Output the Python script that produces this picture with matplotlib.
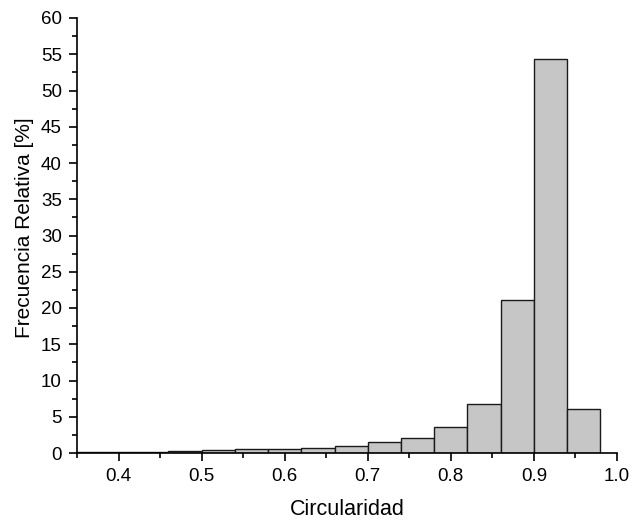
import numpy as np
import matplotlib.pyplot as plt
from matplotlib.ticker import MultipleLocator

# bin left edges (width 0.04) and relative frequency in %
bin_edges = [0.34, 0.38, 0.42, 0.46, 0.50, 0.54, 0.58, 0.62, 0.66, 0.70,
             0.74, 0.78, 0.82, 0.86, 0.90, 0.94, 0.98]
freq = [0.1, 0.15, 0.2, 0.25, 0.35, 0.5, 0.6, 0.75, 1.0, 1.5,
        2.05, 3.65, 6.75, 21.1, 54.35, 6.05]

plt.rcParams['font.family'] = ['Liberation Sans', 'DejaVu Sans']

fig = plt.figure(figsize=(6.33, 5.25), dpi=100)
ax = fig.add_axes([77 / 633, 1 - 453 / 525, 540 / 633, 435 / 525])

left = np.array(bin_edges[:-1])
widths = np.diff(bin_edges)
ax.bar(left, freq, width=widths, align='edge', color='#c6c6c6',
       edgecolor='#1a1a1a', linewidth=1.0)

ax.set_xlim(0.35, 1.0)
ax.set_ylim(0, 60)
ax.xaxis.set_major_locator(MultipleLocator(0.1))
ax.xaxis.set_minor_locator(MultipleLocator(0.05))
ax.yaxis.set_major_locator(MultipleLocator(5))
ax.yaxis.set_minor_locator(MultipleLocator(2.5))
ax.set_xticks([0.4, 0.5, 0.6, 0.7, 0.8, 0.9, 1.0])
ax.set_xticklabels(['0.4', '0.5', '0.6', '0.7', '0.8', '0.9', '1.0'])

ax.spines['top'].set_visible(False)
ax.spines['right'].set_visible(False)
ax.spines['left'].set_linewidth(1.2)
ax.spines['bottom'].set_linewidth(1.2)
ax.tick_params(which='major', direction='out', length=6, width=1.2,
               labelsize=13.5, pad=5)
ax.tick_params(which='minor', direction='out', length=3.5, width=1.2)

ax.set_xlabel('Circularidad', fontsize=15.5, labelpad=10)
ax.set_ylabel('Frecuencia Relativa [%]', fontsize=15)
ax.yaxis.set_label_coords(-0.08, 0.517)

fig.savefig('out.png', dpi=100)
